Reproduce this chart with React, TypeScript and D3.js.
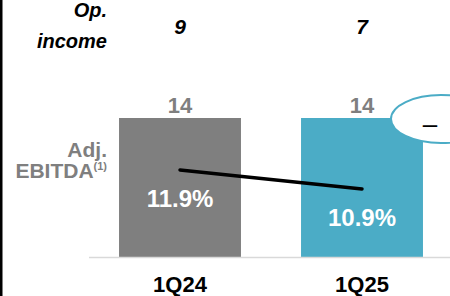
import React from 'react';
import * as d3 from 'd3';

const categories = ['1Q24', '1Q25'];
const ebitda = [14, 14];
const margin = [11.9, 10.9];
const opIncome = [9, 7];
const barColors = ['#7f7f7f', '#4bacc6'];

const W = 450;
const H = 296;
const FONT = '"Liberation Sans", Arial, sans-serif';

const App = () => {
  const x = d3.scaleBand<string>()
    .domain(categories)
    .range([89, 453])
    .paddingInner(0.33)
    .paddingOuter(0.165);

  const yBar = d3.scaleLinear().domain([0, 14]).range([257, 118]);
  const yMargin = d3.scaleLinear().domain([10, 12]).range([206, 168]);

  const cx = (c: string) => (x(c) ?? 0) + x.bandwidth() / 2;

  const line = d3.line<number>()
    .x((_, i) => cx(categories[i]))
    .y(d => yMargin(d));

  return (
    <svg width={W} height={H} style={{ position: 'absolute', left: 0, top: 0 }} fontFamily={FONT}>
      <rect x={0} y={0} width={2.5} height={H} fill="#000" />

      {/* row labels */}
      <text x={107} textAnchor="end" fontWeight="bold" fontStyle="italic" fontSize={20} fill="#000">
        <tspan x={107} y={17}>Op.</tspan>
        <tspan x={107} y={48}>income</tspan>
      </text>
      <text x={107} textAnchor="end" fontWeight="bold" fontSize={21} fill="#7f7f7f">
        <tspan x={107} y={157}>Adj.</tspan>
        <tspan x={107} y={178}>EBITDA<tspan fontSize={11} dy={-8}>(1)</tspan></tspan>
      </text>

      {opIncome.map((v, i) => (
        <text key={'op' + i} x={cx(categories[i])} y={34} textAnchor="middle"
          fontWeight="bold" fontStyle="italic" fontSize={21} fill="#000">{v}</text>
      ))}

      {ebitda.map((v, i) => (
        <g key={'b' + i}>
          <rect x={x(categories[i])} y={yBar(v)} width={x.bandwidth()} height={yBar(0) - yBar(v)} fill={barColors[i]} />
          <text x={cx(categories[i])} y={yBar(v) - 5} textAnchor="middle" fontWeight="bold" fontSize={22} fill="#7f7f7f">{v}</text>
        </g>
      ))}

      <line x1={89} x2={W} y1={257.5} y2={257.5} stroke="#d9d9d9" strokeWidth={1.5} />

      <path d={line(margin) ?? ''} fill="none" stroke="#000" strokeWidth={3.5} strokeLinecap="round" />

      {margin.map((v, i) => (
        <text key={'m' + i} x={cx(categories[i])} y={yMargin(v) + 37} textAnchor="middle"
          fontWeight="bold" fontSize={24} fill="#fff">{v.toFixed(1)}%</text>
      ))}

      {categories.map(c => (
        <text key={c} x={cx(c)} y={292} textAnchor="middle" fontWeight="bold" fontSize={22} fill="#000">{c}</text>
      ))}

      <ellipse cx={441} cy={119} rx={50} ry={24} fill="#fff" stroke="#4bacc6" strokeWidth={2} />
      <text x={430} y={133} textAnchor="middle" fontSize={26} fill="#000">–</text>
    </svg>
  );
};

export default App;
